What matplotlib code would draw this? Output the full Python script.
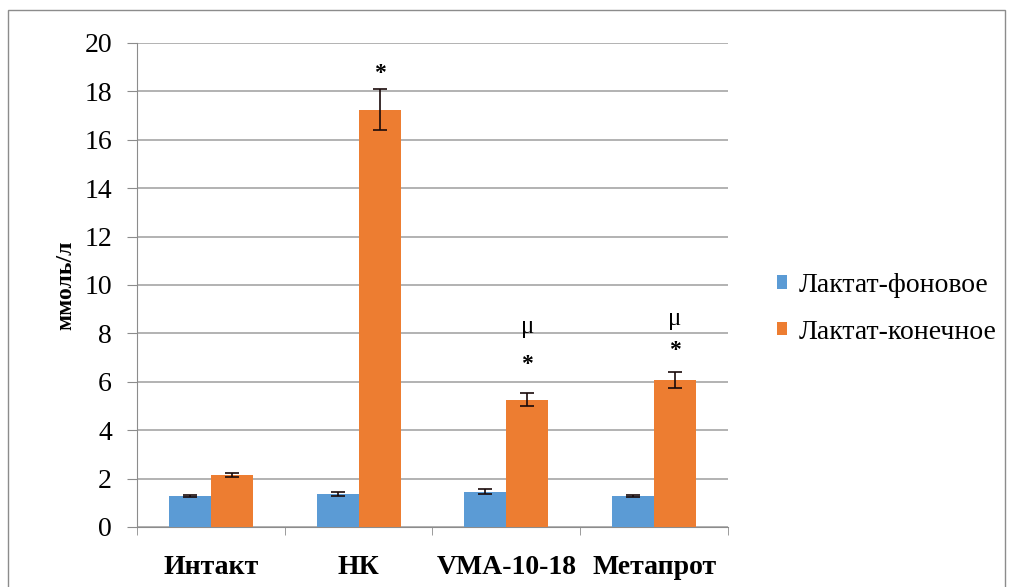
import numpy as np
import matplotlib
matplotlib.use('Agg')
import matplotlib.pyplot as plt
from matplotlib.patches import Rectangle

groups = ['Интакт', 'НК', 'VMA-10-18', 'Метапрот']
series = ['Лактат-фоновое', 'Лактат-конечное']
background = [1.28, 1.35, 1.46, 1.28]
background_err = [0.03, 0.08, 0.10, 0.03]
final = [2.15, 17.25, 5.25, 6.07]
final_err = [0.10, 0.85, 0.27, 0.33]
star_y = [None, 18.75, 6.7, 7.3]
mu_y = [None, None, 8.25, 8.6]

plt.rcParams['font.family'] = ['Liberation Serif', 'DejaVu Serif']

fig = plt.figure(figsize=(10.11, 5.87), dpi=100)
ax = fig.add_axes([137 / 1011, 60 / 587, 591 / 1011, 484 / 587])

x = np.arange(len(groups))
w = 0.284
ekw = dict(ecolor='#1a0a0a', elinewidth=1.2, capsize=5, capthick=1.2)
ax.bar(x - w / 2, background, w, yerr=background_err, color='#5B9BD5',
       label=series[0], error_kw=ekw, zorder=3)
ax.bar(x + w / 2, final, w, yerr=final_err, color='#ED7D31',
       label=series[1], error_kw=ekw, zorder=3)

for i in range(len(groups)):
    if star_y[i] is not None:
        ax.text(x[i] + w / 2, star_y[i], '*', ha='center', va='center',
                fontsize=17, fontweight='bold')
    if mu_y[i] is not None:
        ax.text(x[i] + w / 2, mu_y[i], 'μ', ha='center', va='center', fontsize=18)

ax.set_xlim(-0.5, len(groups) - 0.5)
ax.set_ylim(0, 20)
ax.set_yticks(np.arange(0, 21, 2))
ax.yaxis.grid(True, color='#a6a6a6', linewidth=1.2)
ax.set_axisbelow(True)
for s in ['top', 'right']:
    ax.spines[s].set_visible(False)
ax.spines['left'].set_color('#8c8c8c')
ax.spines['bottom'].set_color('#8c8c8c')

ax.set_xticks(x)
ax.set_xticklabels(groups, fontsize=20, fontweight='bold')
ax.tick_params(axis='x', length=0, pad=20)
ax.set_xticks(np.arange(-0.5, len(groups)), minor=True)
ax.tick_params(axis='x', which='minor', length=6, color='#8c8c8c')
ax.tick_params(axis='y', length=7, color='#8c8c8c', labelsize=20, pad=11)
ax.set_ylabel('ммоль/л', fontsize=17, fontweight='bold', labelpad=6)

fig.legend(loc='center left', bbox_to_anchor=(752 / 1011, 0.474), frameon=False,
           prop={'family': 'Liberation Serif', 'size': 20},
           handlelength=0.36, handleheight=0.36, handletextpad=0.43,
           labelspacing=0.78)

fig.patches.append(Rectangle((8 / 1011, -0.05), 997 / 1011, 1.05 - 10 / 587,
                             transform=fig.transFigure, fill=False,
                             edgecolor='#8c8c8c', linewidth=1))

fig.savefig('out.png', dpi=100)
